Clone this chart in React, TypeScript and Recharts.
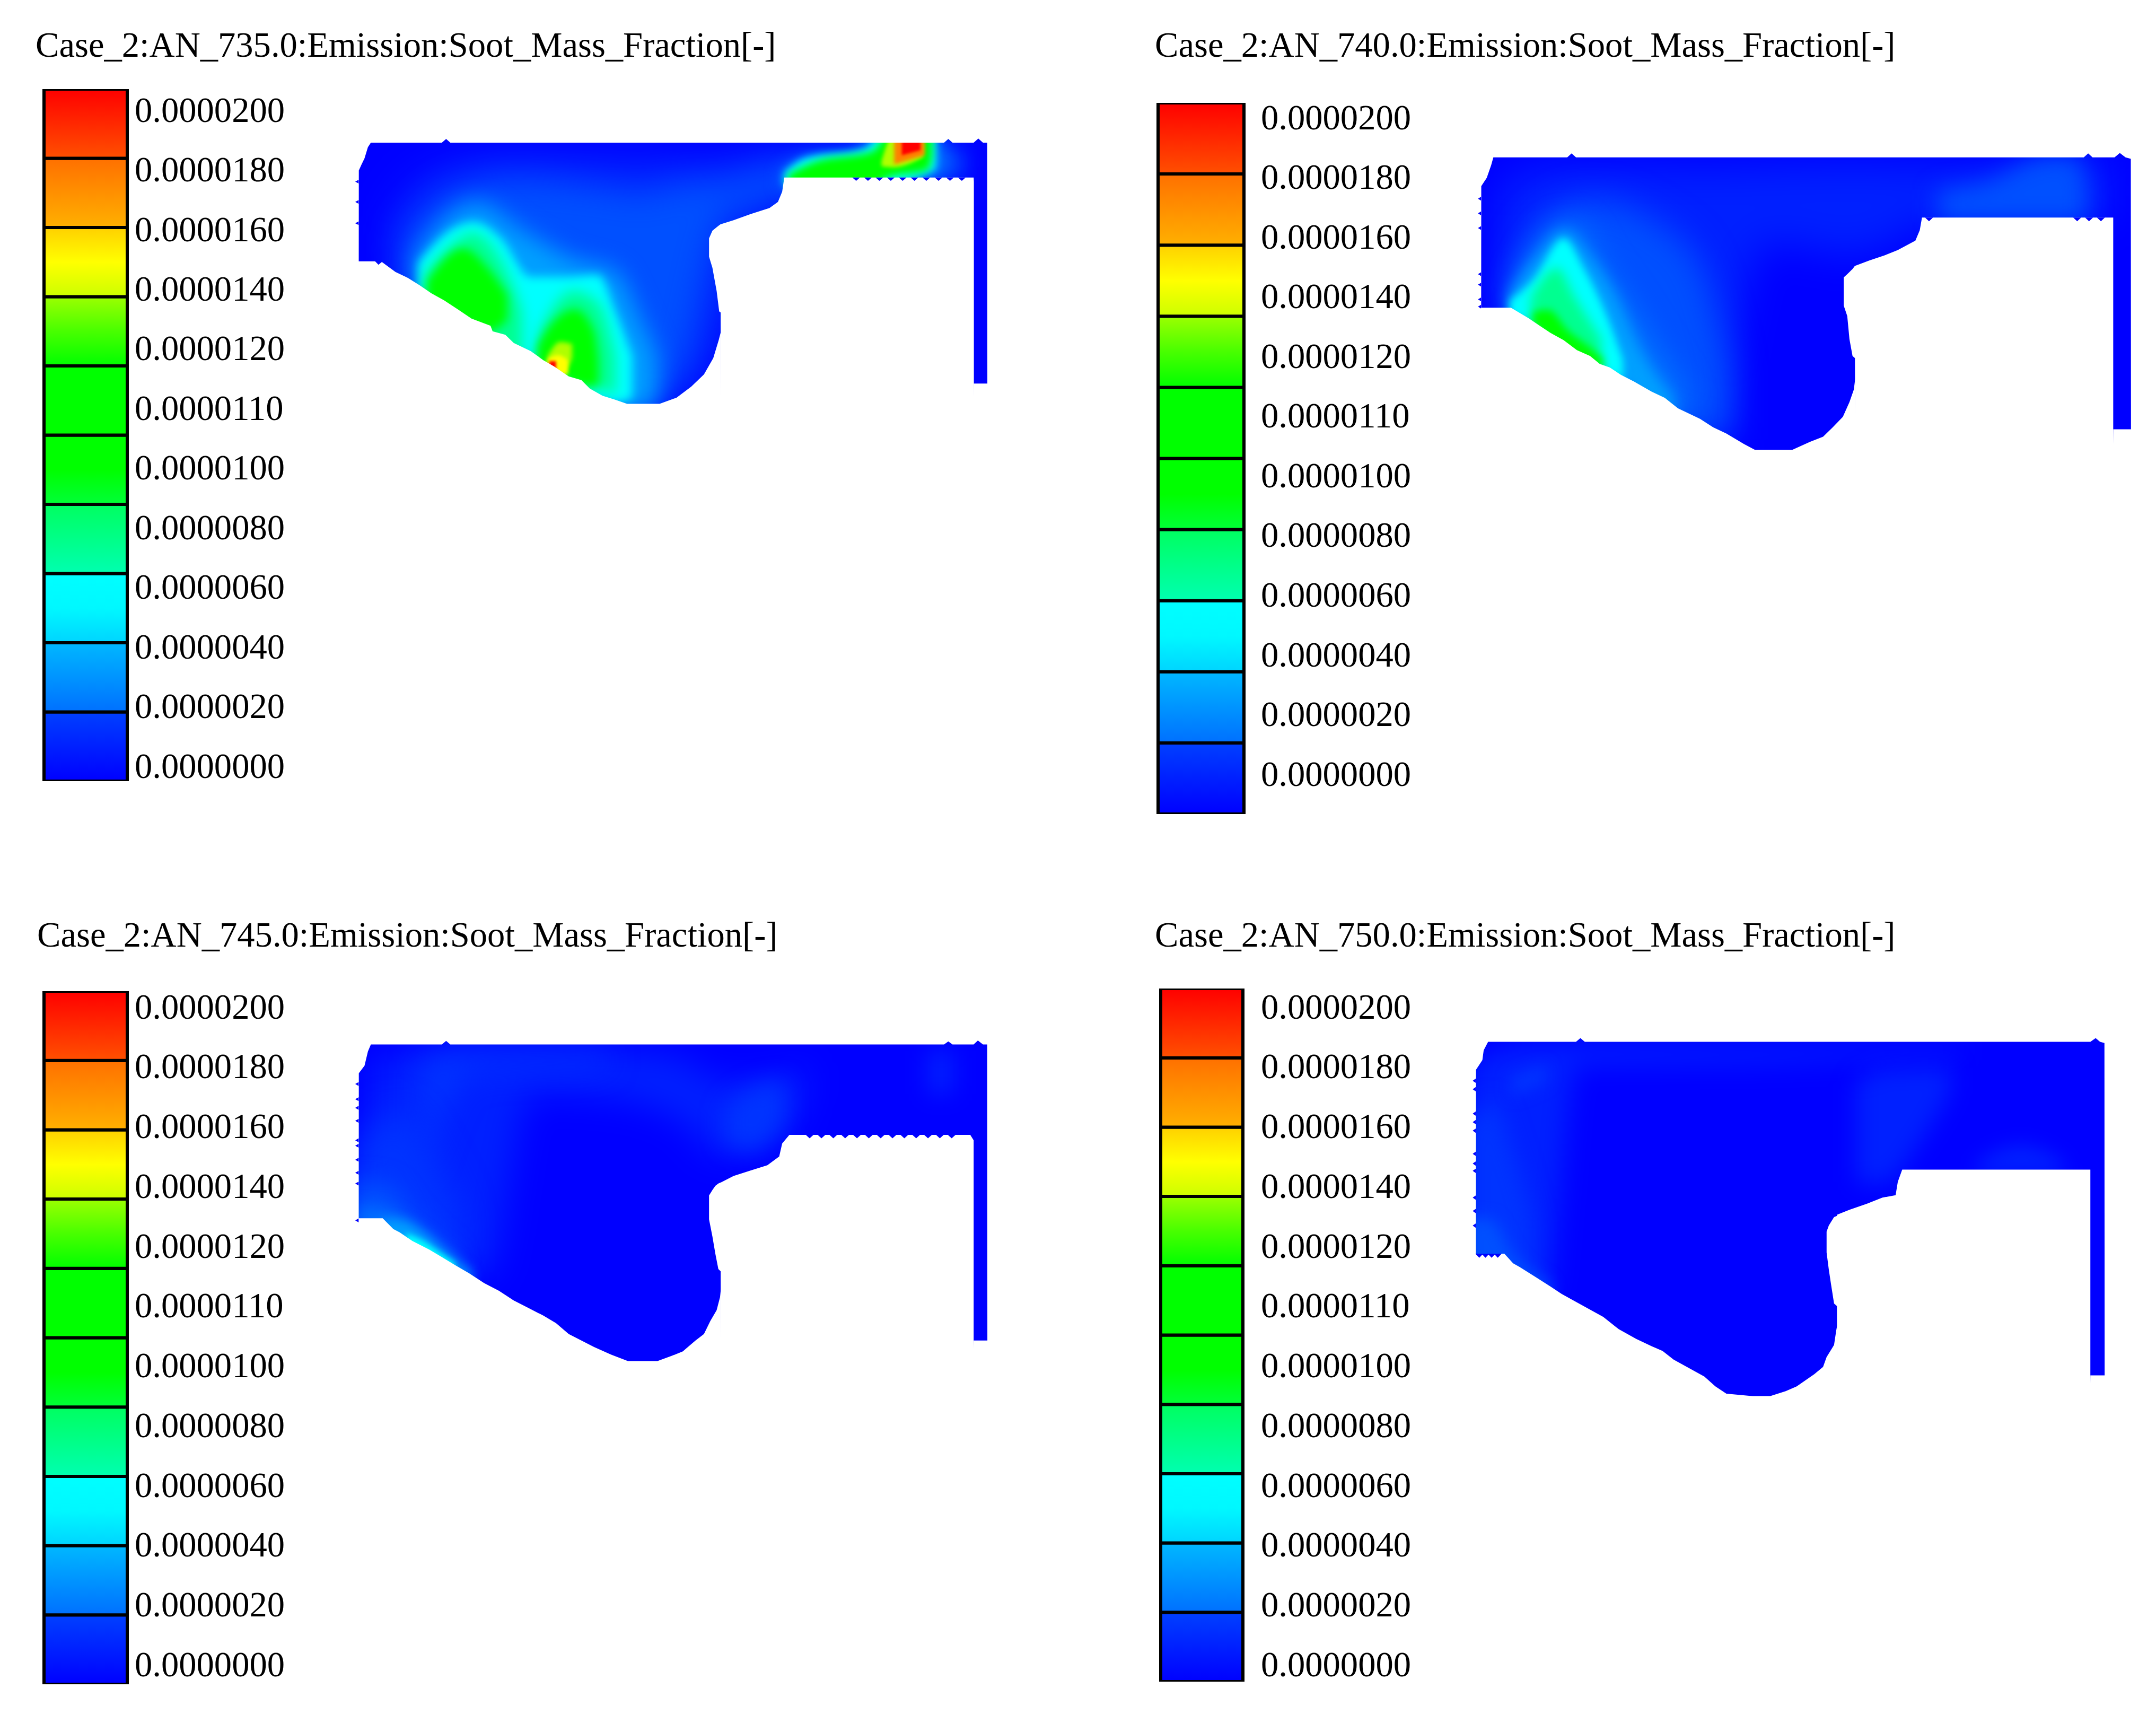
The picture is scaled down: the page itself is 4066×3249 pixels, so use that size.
import React from 'react';
import { ComposedChart, BarChart, Bar, Area, XAxis, YAxis } from 'recharts';

const FONT = '"Liberation Serif", "Times New Roman", serif';
const LEGEND_LABELS = ['0.0000200','0.0000180','0.0000160','0.0000140','0.0000120','0.0000110','0.0000100','0.0000080','0.0000060','0.0000040','0.0000020','0.0000000'];
const LABEL_TICKS = [0,1,2,3,4,5,6,7,8,9,10,11];
// colour scale segments, listed from the bottom of the bar upward (gradient stops are top to bottom)
const SEGMENTS: string[][] = [
  ['#0040ff','#0000ff'],
  ['#00b8ff','#0070ff'],
  ['#00ffff','#00f8ff','#00d4ff'],
  ['#00ff60','#00ffb0'],
  ['#00ff00','#00ff00','#00ff38'],
  ['#00ff00','#00ff00'],
  ['#9cff00','#48ff00','#00ff00'],
  ['#ffd000','#ffff00','#ccff00'],
  ['#ff7000','#ffb000'],
  ['#ff0000','#ff5000'],
];
const SEG_KEYS = SEGMENTS.map((_, i) => `s${i}`);
const SEG_ROW = [Object.assign({ name: 'scale' }, ...SEG_KEYS.map((k) => ({ [k]: 1 })))];

const LV = ['#0000ff','#0020ff','#0034ff','#0050ff','#0070ff','#00a0ff','#00ffff','#00ff90','#00ff00','#b0ff00','#ffff00','#ff8000','#ff0000'];
type C = { l: number; b: number; p: number[][] };

// ---- AN 735 ----
const TOP_735 = [[0,1568],[33,1568],[33.5,265],[40,235],[47,205],[55,150],[62,128],[230,128],[240,110],[250,128],[1418,128],[1428,110],[1438,128],[1488,128],[1499,108],[1510,128],[1520,128],[1520.5,1568],[1568,1568]];
const LOW_735 = [[20,713],[72,713],[80,730],[88,716],[120,765],[150,795],[178,832],[205,870],[235,905],[268,950],[300,995],[345,1030],[350,1058],[380,1075],[400,1115],[440,1155],[470,1200],[495,1230],[530,1280],[560,1298],[580,1340],[610,1375],[640,1395],[668,1415],[745,1415],[785,1385],[820,1330],[850,1270],[872,1190],[885,1100],[890,1060],[891,1568],[1487,1568],[1488,1315],[1523,1315],[1524,1568],[1568,1568]];
const POCKET_735 = [[862,600,690],[870,562,745],[880,545,860],[886,535,960],[889.5,530,965],[890,530,1568],[920,510,1568],[960,480,1568],[1005,450,1568],[1025,420,1568],[1035,370,1568],[1040,300,1568],[1488,300,1568],[1488.5,320,1568]];
const VTEETH_735 = [[1210,300,316],[1238,300,316],[1265,300,316],[1292,300,316],[1320,300,316],[1348,300,316],[1376,300,316],[1405,300,316],[1432,300,316],[1460,300,316]];
const HTEETH_735 = [[320,33,25],[420,33,25],[525,33,25]];
const FIELD_735: C[] = [
  { l: 1, b: 22, p: [[110,480,760],[200,270,1000],[400,190,1300],[700,190,1450],[850,210,1300],[1040,170,400],[1230,150,300],[1460,150,290]] },
  { l: 3, b: 18, p: [[140,590,800],[250,370,1000],[400,300,1300],[600,340,1450],[700,370,1420],[800,320,1250],[900,310,500],[1030,240,400],[1120,240,300]] },
  { l: 3, b: 10, p: [[1380,130,300],[1420,150,300],[1460,170,300]] },
  { l: 5, b: 12, p: [[165,700,850],[250,480,990],[310,420,1090],[420,560,1260],[540,700,1380],[640,760,1420],[700,1000,1460],[740,1180,1390]] },
  { l: 6, b: 5, p: [[175,720,850],[250,560,970],[305,520,1070],[370,600,1140],[440,790,1190],[520,790,1330],[600,780,1390],[640,960,1410],[680,1180,1390]] },
  { l: 7, b: 7, p: [[190,770,890],[260,620,990],[300,570,1040],[370,710,1140],[395,820,1180],[420,960,1210]] },
  { l: 7, b: 7, p: [[460,1060,1230],[540,860,1320],[600,920,1340],[640,1180,1370]] },
  { l: 8, b: 5, p: [[195,810,900],[280,650,1010],[340,750,1060],[385,880,1000]] },
  { l: 8, b: 5, p: [[455,1130,1230],[490,1020,1240],[545,950,1320],[590,1060,1330],[600,1200,1320]] },
  { l: 9, b: 4, p: [[480,1180,1225],[510,1110,1280],[538,1120,1190]] },
  { l: 10, b: 3, p: [[480,1195,1230],[505,1175,1270],[528,1200,1270]] },
  { l: 12, b: 2, p: [[484,1205,1245],[500,1205,1255]] },
  { l: 5, b: 10, p: [[1040,290,340],[1090,215,340],[1220,170,340],[1260,90,340],[1405,90,290]] },
  { l: 6, b: 4, p: [[1040,275,340],[1090,205,340],[1230,160,340],[1270,90,340],[1398,90,260]] },
  { l: 8, b: 4, p: [[1050,285,340],[1110,225,340],[1250,170,340],[1285,90,300],[1380,90,260],[1390,90,190]] },
  { l: 9, b: 3, p: [[1270,220,245],[1298,90,250],[1368,90,200]] },
  { l: 11, b: 3, p: [[1300,90,235],[1372,90,190]] },
  { l: 12, b: 2, p: [[1318,90,190],[1362,90,165]] },
];

// ---- AN 740 ----
const TOP_740 = [[0,1568],[52,1568],[52.5,230],[65,190],[75,130],[80,93],[248,93],[258,74],[268,93],[1423,93],[1433,74],[1443,93],[1493,93],[1505,72],[1518,93],[1530,100],[1530.5,1568],[1568,1568]];
const LOW_740 = [[30,810],[120,810],[160,860],[185,895],[210,930],[240,965],[270,1012],[300,1040],[322,1078],[345,1095],[370,1130],[400,1162],[440,1210],[470,1240],[500,1290],[550,1340],[580,1380],[610,1410],[650,1460],[675,1488],[760,1488],[800,1450],[830,1425],[852,1380],[875,1330],[890,1260],[900,1200],[903,1150],[904,1568],[1489,1568],[1490,1390],[1533,1390],[1534,1568],[1568,1568]];
const POCKET_740 = [[877,665,800],[885,650,850],[890,640,960],[897,625,1040],[902.5,610,1050],[903,610,1568],[935,585,1568],[970,560,1568],[1000,535,1568],[1040,490,1568],[1050,440,1568],[1055,380,1568],[1490,380,1568]];
const VTEETH_740 = [[1071,380,398],[1408,380,398],[1435,380,398],[1462,380,398]];
const HTEETH_740 = [[290,52,45],[360,52,45],[430,52,45],[650,52,45],[700,52,45],[770,52,45],[805,52,45]];
const FIELD_740: C[] = [
  { l: 1, b: 20, p: [[90,240,830],[200,140,1030],[400,130,1320],[560,140,1470],[700,130,500],[900,120,560],[1100,130,400],[1480,100,400]] },
  { l: 3, b: 18, p: [[130,600,830],[200,380,970],[300,290,1170],[450,400,1320],[550,600,1410],[620,1100,1440]] },
  { l: 3, b: 12, p: [[1090,250,400],[1200,210,400],[1340,90,400],[1410,90,400],[1430,240,400]] },
  { l: 4, b: 14, p: [[125,700,840],[190,480,930],[260,390,1110],[340,620,1200],[430,900,1310],[520,1200,1390]] },
  { l: 5, b: 7, p: [[115,750,840],[180,560,910],[240,440,1050],[300,560,1130],[350,720,1150],[420,1030,1250],[490,1240,1330]] },
  { l: 6, b: 4, p: [[118,775,845],[170,680,890],[240,480,1030],[285,620,1070],[340,860,1115],[375,1060,1160]] },
  { l: 7, b: 6, p: [[165,760,890],[225,620,990],[265,760,1035],[325,960,1100]] },
  { l: 8, b: 4, p: [[170,830,890],[205,820,955],[250,920,1020],[300,1000,1080],[330,1055,1105]] },
];

// ---- AN 745 ----
const TOP_745 = [[0,1568],[33,1568],[33.5,205],[47,170],[55,105],[62,72],[230,72],[240,56],[250,72],[1418,72],[1428,58],[1438,72],[1488,72],[1498,54],[1510,72],[1520,72],[1520.5,1568],[1568,1568]];
const LOW_745 = [[20,875],[90,875],[115,925],[130,940],[160,980],[200,1020],[230,1055],[260,1090],[295,1130],[330,1175],[365,1210],[400,1255],[435,1290],[470,1325],[500,1360],[530,1410],[560,1440],[590,1470],[630,1505],[670,1535],[740,1535],[775,1510],[800,1490],[830,1440],[850,1410],[865,1350],[880,1300],[888,1240],[890,1200],[891,1568],[1487,1568],[1488,1440],[1523,1440],[1524,1568],[1568,1568]];
const POCKET_745 = [[862,770,880],[870,745,960],[877,725,1040],[884,715,1110],[889.5,710,1120],[890,710,1568],[920,680,1568],[960,655,1568],[1000,630,1568],[1028,590,1568],[1035,530,1568],[1052,490,1568],[1480,490,1568],[1488,515,1568]];
const VTEETH_745 = [[1100,490,506],[1128,490,506],[1156,490,506],[1184,490,506],[1212,490,506],[1240,490,506],[1268,490,506],[1296,490,506],[1324,490,506],[1352,490,506],[1380,490,506],[1408,490,506],[1436,490,506]];
const HTEETH_745 = [[255,33,25],[325,33,25],[365,33,25],[425,33,25],[515,33,25],[540,33,25],[605,33,25],[665,33,25],[715,33,25],[885,33,25]];
const FIELD_745: C[] = [
  { l: 1, b: 18, p: [[60,170,890],[200,95,1040],[340,85,1150],[440,85,300],[620,95,320],[800,140,430],[880,240,580],[1030,230,500],[1090,140,300]] },
  { l: 1, b: 12, p: [[1380,100,300],[1440,100,300]] },
  { l: 2, b: 16, p: [[180,150,700],[300,110,200],[620,110,170]] },
  { l: 2, b: 12, p: [[900,370,520],[960,280,560],[1040,240,430]] },
  { l: 2, b: 18, p: [[20,560,920],[130,380,1000],[200,560,1070],[270,830,1130]] },
  { l: 3, b: 12, p: [[20,700,920],[100,720,970],[170,880,1050],[260,1040,1130]] },
  { l: 4, b: 8, p: [[30,820,920],[100,840,970],[170,930,1050],[260,1070,1130]] },
  { l: 5, b: 6, p: [[90,880,960],[140,890,995],[190,950,1052],[240,1040,1115],[300,1115,1180]] },
  { l: 6, b: 3, p: [[145,945,1000],[190,985,1050],[215,1020,1075],[260,1080,1130]] },
];

// ---- AN 750 ----
const TOP_750 = [[0,1568],[40,1568],[40.5,190],[55,150],[58,110],[68,75],[268,75],[278,60],[288,75],[1438,75],[1450,60],[1460,75],[1470,80],[1470.5,1568],[1568,1568]];
const LOW_750 = [[20,945],[105,945],[125,985],[140,1000],[175,1040],[210,1080],[235,1110],[260,1135],[295,1170],[330,1205],[365,1255],[405,1295],[440,1325],[465,1345],[490,1380],[525,1415],[560,1450],[585,1490],[610,1520],[670,1530],[710,1530],[745,1510],[770,1490],[810,1440],[830,1410],[838,1370],[855,1320],[860,1260],[862,1240],[863,1568],[1437,1568],[1438,1445],[1473,1445],[1474,1568],[1568,1568]];
const POCKET_750 = [[838,855,940],[843,830,1010],[848,815,1070],[855,795,1150],[861.5,790,1160],[862,785,1568],[890,765,1568],[930,740,1568],[965,715,1568],[995,705,1568],[1000,650,1568],[1010,600,1568],[1438,600,1568]];
const VTEETH_750 = [[48,945,962],[62,945,962],[76,945,962],[90,945,962]];
const HTEETH_750 = [[235,40,33],[270,40,33],[370,40,33],[405,40,33],[440,40,33],[535,40,33],[575,40,33],[605,40,33],[715,40,33],[770,40,33],[830,40,33]];
const FIELD_750: C[] = [
  { l: 1, b: 14, p: [[20,180,980],[110,100,1070],[200,85,1150],[270,85,170],[700,95,160],[1150,90,120]] },
  { l: 1, b: 12, p: [[905,250,650],[960,190,660],[1060,180,460],[1120,180,280]] },
  { l: 1, b: 10, p: [[1180,570,620],[1280,500,620],[1380,570,620]] },
  { l: 2, b: 12, p: [[20,420,980],[80,320,1040],[120,500,1080],[170,800,1120]] },
  { l: 2, b: 8, p: [[120,220,300],[200,170,240]] },
  { l: 3, b: 8, p: [[20,800,985],[70,800,1010],[130,960,1060],[210,1070,1130]] },
];

const PANELS = [
  { title: 'Case_2:AN_735.0:Emission:Soot_Mass_Fraction[-]', tx: 67, ty: 45, bar: [80,165,163,1311], lab: [-0.338,11.266], tm: 11, crop: [650,220,1250,600], top: TOP_735, low: LOW_735, pocket: POCKET_735, vt: VTEETH_735, ht: HTEETH_735, field: FIELD_735 },
  { title: 'Case_2:AN_740.0:Emission:Soot_Mass_Fraction[-]', tx: 2178, ty: 45, bar: [2181,191,168,1347], lab: [-0.231,11.684], tm: 29, crop: [2750,260,1300,620], top: TOP_740, low: LOW_740, pocket: POCKET_740, vt: VTEETH_740, ht: HTEETH_740, field: FIELD_740 },
  { title: 'Case_2:AN_745.0:Emission:Soot_Mass_Fraction[-]', tx: 70, ty: 1723, bar: [80,1866,163,1313], lab: [-0.248,11.345], tm: 11, crop: [650,1940,1250,640], top: TOP_745, low: LOW_745, pocket: POCKET_745, vt: VTEETH_745, ht: HTEETH_745, field: FIELD_745 },
  { title: 'Case_2:AN_750.0:Emission:Soot_Mass_Fraction[-]', tx: 2178, ty: 1723, bar: [2186,1861,161,1313], lab: [-0.293,11.3], tm: 31, crop: [2750,1930,1300,720], top: TOP_750, low: LOW_750, pocket: POCKET_750, vt: VTEETH_750, ht: HTEETH_750, field: FIELD_750 },
];

const FULL = [[0,0,1568],[1568,0,1568]];
const rng = (p: number[][]) => p.map(([x, lo, hi]) => ({ x, r: [lo, hi] }));
const common = { type: 'linear' as const, stroke: 'none', dot: false, activeDot: false, isAnimationActive: false, dataKey: 'r', legendType: 'none' as const };

function vTeeth(t: number[][]) {
  return rng(t.flatMap(([x, b, tip]) => [[x - 9, b, b], [x, Math.min(b, tip), Math.max(b, tip)], [x + 9, b, b]]));
}
function Field({ p, idx }: any) {
  const [l, t, w, h] = p.crop;
  return (
    <div style={{ position: 'absolute', left: l, top: t }}>
      <ComposedChart width={w} height={h} margin={{ top: 0, right: 0, bottom: 0, left: 0 }}>
        <XAxis type="number" dataKey="x" domain={[0, 1568]} hide allowDataOverflow />
        <YAxis type="number" domain={[0, 1568]} reversed hide allowDataOverflow />
        <Area {...common} data={rng(FULL)} fill="#0000ff" fillOpacity={1} />
        {p.field.map((c: C, i: number) => (
          <Area key={`f${idx}${i}`} {...common} type="monotoneX" data={rng(c.p)} fill={LV[c.l]} fillOpacity={1} style={{ filter: `blur(${c.b * (c.l <= 8 ? 1.8 : 1.2)}px)` }} />
        ))}
        <Area {...common} data={p.top.map(([x, y]: number[]) => ({ x, r: [0, y] }))} fill="#fff" fillOpacity={1} />
        <Area {...common} data={p.low.map(([x, y]: number[]) => ({ x, r: [y, 1568] }))} fill="#fff" fillOpacity={1} />
        <Area {...common} data={rng(p.pocket)} fill="#fff" fillOpacity={1} />
        <Area {...common} data={vTeeth(p.vt)} fill="#0000ff" fillOpacity={1} />
        {p.ht.map(([y, b, tip]: number[], i: number) => (
          <Area key={`h${idx}${i}`} {...common} data={rng([[tip, y, y], [b, y - 9, y + 9]])} fill="#0000ff" fillOpacity={1} />
        ))}
      </ComposedChart>
    </div>
  );
}
function Legend({ p, idx }: any) {
  const [l, t, w, h] = p.bar;
  const axisW = 340;
  const pad = 40;
  return (
    <div style={{ position: 'absolute', left: l, top: t - pad }}>
      <BarChart width={w + axisW} height={h + 2 * pad} data={SEG_ROW} barCategoryGap={0} margin={{ top: pad + 3, bottom: pad + 3, left: 3, right: 0 }}>
        <defs>
          {SEGMENTS.map((s, i) => (
            <linearGradient key={i} id={`seg${idx}-${i}`} x1="0" y1="0" x2="0" y2="1">
              {s.map((c, j) => <stop key={j} offset={j / (s.length - 1)} stopColor={c} />)}
            </linearGradient>
          ))}
        </defs>
        <XAxis dataKey="name" type="category" hide padding={{ left: 0, right: 3 }} />
        <YAxis yAxisId="seg" type="number" domain={[0, 10]} hide allowDataOverflow />
        <YAxis yAxisId="lab" orientation="right" type="number" width={axisW} domain={p.lab} reversed allowDataOverflow ticks={LABEL_TICKS} interval={0}
          tickFormatter={(i: number) => LEGEND_LABELS[i]} tickLine={false} axisLine={false} tickSize={0} tickMargin={p.tm}
          tick={{ fontFamily: FONT, fontSize: 66.6, fill: '#000' }} />
        {SEG_KEYS.map((k, i) => (
          <Bar key={k} yAxisId="seg" dataKey={k} stackId="c" fill={`url(#seg${idx}-${i})`} stroke="#000" strokeWidth={6} isAnimationActive={false} />
        ))}
      </BarChart>
    </div>
  );
}

export default function App() {
  return (
    <div style={{ position: 'absolute', left: 0, top: 0, width: 4066, height: 3249, background: '#fff', overflow: 'hidden' }}>
      {PANELS.map((p, i) => (
        <React.Fragment key={i}>
          <div style={{ position: 'absolute', left: p.tx, top: p.ty, fontFamily: FONT, fontSize: 66.6, lineHeight: '80px', color: '#000', whiteSpace: 'nowrap' }}>{p.title}</div>
          <Legend p={p} idx={i} />
          <Field p={p} idx={i} />
        </React.Fragment>
      ))}
    </div>
  );
}
